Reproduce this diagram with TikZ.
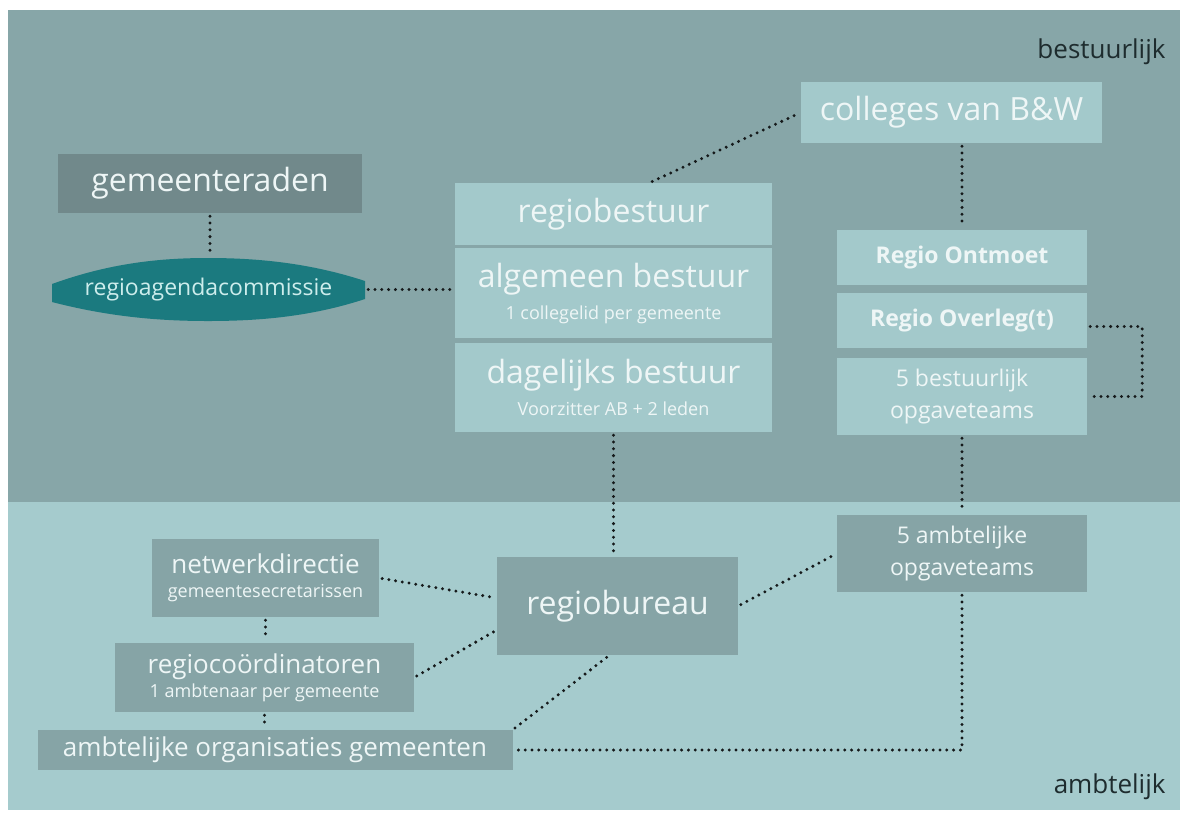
\documentclass[tikz,border=0pt]{standalone}
\usepackage{fontspec}
\setmainfont{Open Sans}

\definecolor{bandtop}{HTML}{87A6A8}
\definecolor{bandlow}{HTML}{A5CBCD}
\definecolor{boxlight}{HTML}{A3C9CB}
\definecolor{boxdark}{HTML}{86A4A6}
\definecolor{boxdeep}{HTML}{71898B}
\definecolor{lensfill}{HTML}{1B7A7F}
\definecolor{boxtext}{HTML}{EEF6F6}
\definecolor{lenstext}{HTML}{CDEDEC}
\definecolor{dotline}{HTML}{15191A}
\definecolor{bandtext}{HTML}{1E2C2E}

\newcommand\txtL{\fontsize{32}{38}\selectfont}
\newcommand\txtM{\fontsize{26}{32}\selectfont}
\newcommand\txtN{\fontsize{23}{32}\selectfont}
\newcommand\txtS{\fontsize{18}{22}\selectfont}

\begin{document}
\begin{tikzpicture}[x=1pt, y=-1pt,
		box/.style={rectangle, inner sep=0pt, align=center, text=boxtext},
		light/.style={box, fill=boxlight},
		dark/.style={box, fill=boxdark},
		link/.style={draw=dotline, line width=3.3pt, line cap=round,
			dash pattern=on 0pt off 6.8pt, shorten >=3pt, shorten <=3pt}]

	\useasboundingbox (0, 0) rectangle (1182, 815);
	\fill [white] (0, 0) rectangle (1182, 815);
	\fill [bandtop] (8, 10) rectangle (1180, 502);
	\fill [bandlow] (8, 502) rectangle (1180, 810);

	\node at (1169, 52) [anchor=east, text=bandtext, font=\txtM] {bestuurlijk};
	\node at (1169, 787) [anchor=east, text=bandtext, font=\txtM] {ambtelijk};

	% bestuurlijk
	\node (col) at (951.5, 112.5) [light, minimum width=301, minimum height=61, font=\txtL] {colleges van B\&W};
	\node (gem) at (210, 183.5) [box, fill=boxdeep, minimum width=304, minimum height=59, font=\txtL] {gemeenteraden};
	\fill [lensfill] (52, 284) .. controls (110, 263) and (160, 258) .. (208, 258)
		.. controls (258, 258) and (310, 263) .. (365, 281) -- (365, 299)
		.. controls (310, 317) and (258, 321) .. (208, 321)
		.. controls (160, 321) and (110, 317) .. (52, 302) -- cycle;
	\node (rac) at (208.5, 289.5) [box, text=lenstext, minimum width=313, minimum height=62, font=\txtN] {regioagendacommissie};

	\node (rb) at (613.5, 214) [light, minimum width=317, minimum height=62, font=\txtL] {regiobestuur};
	\node (alg) at (613.5, 293) [light, minimum width=317, minimum height=90, font=\txtL] {algemeen bestuur\\[-6pt]{\txtS 1 collegelid per gemeente}};
	\node (dag) at (613.5, 387.5) [light, minimum width=317, minimum height=89, font=\txtL] {dagelijks bestuur\\[-6pt]{\txtS Voorzitter AB + 2 leden}};

	\node (ro) at (962, 257.5) [light, minimum width=250, minimum height=55, font=\txtN\bfseries] {Regio Ontmoet};
	\node (ov) at (962, 320.5) [light, minimum width=250, minimum height=55, font=\txtN\bfseries] {Regio Overleg(t)};
	\node (bo) at (962, 396.5) [light, minimum width=250, minimum height=77, font=\txtN] {5 bestuurlijk\\opgaveteams};

	% ambtelijk
	\node (ao) at (962, 553.5) [dark, minimum width=250, minimum height=77, font=\txtN] {5 ambtelijke\\opgaveteams};
	\node (bur) at (617.5, 606) [dark, minimum width=241, minimum height=98, font=\txtL] {regiobureau};
	\node (net) at (265.5, 578) [dark, minimum width=227, minimum height=78, font=\txtM] {netwerkdirectie\\[-8pt]{\txtS gemeentesecretarissen}};
	\node (reg) at (264.5, 677.5) [dark, minimum width=299, minimum height=69, font=\txtM] {regioco\"ordinatoren\\[-8pt]{\txtS 1 ambtenaar per gemeente}};
	\node (org) at (275, 750) [dark, minimum width=475, minimum height=40, font=\txtM] {ambtelijke organisaties gemeenten};

	% verbindingen
	\draw [link] (gem.south) -- (gem.south |- rac.north);
	\draw [link] (rac.east) -- (rac.east -| alg.west);
	\draw [link] ([xshift=36pt]rb.north) -- (col.west);
	\draw [link] (ro.north |- col.south) -- (ro.north);
	\draw [link] ([yshift=-6pt]ov.east) -- ++(55, 0) |- (bo.east);
	\draw [link] (bo.south) -- (ao.north);
	\draw [link] (dag.south) -- (dag.south |- bur.north);
	\draw [link] (bur.east) -- (ao.west);
	\draw [link] (ao.south) |- (org.east);
	\draw [link] (net.east) -- ([yshift=8pt]bur.west);
	\draw [link] (reg.east) -- ([yshift=-24pt]bur.west);
	\draw [link] (org.north east) -- ([xshift=-8pt]bur.south);
	\draw [link] (net.south) -- (net.south |- reg.north);
	\draw [link] (reg.south) -- (reg.south |- org.north);
\end{tikzpicture}
\end{document}
